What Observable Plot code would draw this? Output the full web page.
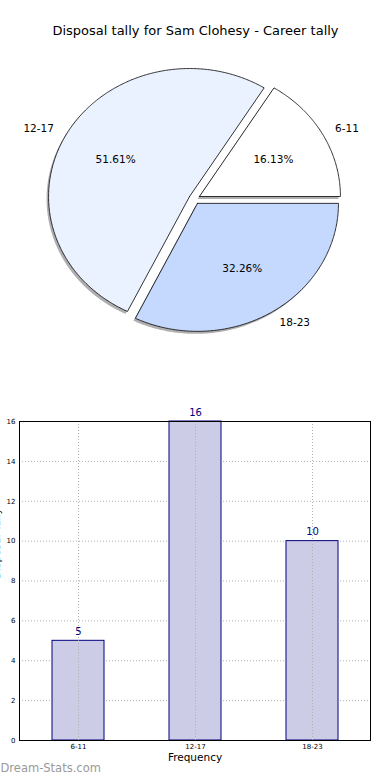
<!DOCTYPE html>
<html>
<head>
<meta charset="utf-8">
<script src="https://cdn.jsdelivr.net/npm/d3@7"></script>
<script src="https://cdn.jsdelivr.net/npm/@observablehq/plot@0.6"></script>
<style>
  html, body { margin: 0; padding: 0; background: #fff; }
  #root { width: 390px; height: 780px; position: relative; overflow: hidden; }
  #root svg { display: block; font-family: "DejaVu Sans", sans-serif; }
</style>
</head>
<body>
<div id="root"></div>
<script>
// ---- data ----
const title = "Disposal tally for Sam Clohesy - Career tally";
const categories = ["6-11", "12-17", "18-23"];
const values = [5, 16, 10];
const sliceColors = ["#ffffff", "#eaf1ff", "#c5d9ff"];
const yTicks = [0, 2, 4, 6, 8, 10, 12, 14, 16];
const xLabel = "Frequency";
const yLabel = "Disposal Tally";
const watermark = "Dream-Stats.com";

const root = document.getElementById("root");
const W = 390;
const font = "DejaVu Sans, sans-serif";

// ---- pie geometry (data units: radius 1) ----
const total = d3.sum(values);
const explode = 0.04;
const slices = [];
let acc = 0;
categories.forEach((c, i) => {
  const a0 = acc / total * 2 * Math.PI;
  acc += values[i];
  const a1 = acc / total * 2 * Math.PI;
  const mid = (a0 + a1) / 2;
  const ox = explode * Math.cos(mid), oy = explode * Math.sin(mid);
  slices.push({key: c, a0, a1, mid, ox, oy, color: sliceColors[i], pct: (values[i] / total * 100).toFixed(2) + "%"});
});
const piePts = [];
for (const s of slices) {
  piePts.push({key: s.key, x: s.ox, y: s.oy, color: s.color});
  const n = Math.max(8, Math.ceil((s.a1 - s.a0) / 0.01));
  for (let k = 0; k <= n; k++) {
    const a = s.a0 + (s.a1 - s.a0) * k / n;
    piePts.push({key: s.key, x: s.ox + Math.cos(a), y: s.oy + Math.sin(a), color: s.color});
  }
  piePts.push({key: s.key, x: s.ox, y: s.oy, color: s.color});
}
const outerLabels = slices.map(s => ({
  text: s.key,
  x: s.ox + 1.1 * Math.cos(s.mid),
  y: s.oy + 1.1 * Math.sin(s.mid),
  anchor: Math.cos(s.mid) >= 0 ? "start" : "end"
}));
const pctLabels = slices.map(s => ({
  text: s.pct,
  x: s.ox + 0.6 * Math.cos(s.mid),
  y: s.oy + 0.6 * Math.sin(s.mid)
}));

const H1 = 390, cx = 194, cy = 198.5, rx = 141, ry = 128;
const pie = Plot.plot({
  width: W, height: H1,
  margin: 0,
  style: {fontFamily: font, background: "transparent"},
  x: {domain: [-cx / rx, (W - cx) / rx], axis: null},
  y: {domain: [-(H1 - cy) / ry, cy / ry], axis: null},
  color: {type: "identity"},
  marks: [
    Plot.line(piePts, {x: "x", y: "y", z: "key", fill: "#4d4d4d", fillOpacity: 0.45, stroke: "none", dx: -2, dy: 2.5, curve: "linear"}),
    Plot.line(piePts, {x: "x", y: "y", z: "key", fill: "color", stroke: "black", strokeWidth: 0.8, curve: "linear"}),
    Plot.text(outerLabels.filter(d => d.anchor === "start"), {x: "x", y: "y", text: "text", textAnchor: "start", fontSize: 10.5, fill: "black"}),
    Plot.text(outerLabels.filter(d => d.anchor === "end"), {x: "x", y: "y", text: "text", textAnchor: "end", fontSize: 10.5, fill: "black"}),
    Plot.text(pctLabels, {x: "x", y: "y", text: "text", fontSize: 10.5, fill: "black"}),
    Plot.text([title], {frameAnchor: "top", dy: 30, fontSize: 13, fill: "black", lineAnchor: "middle"})
  ]
});
root.appendChild(pie);

// ---- bar chart ----
const bars = categories.map((c, i) => ({cat: c, value: values[i]}));
const H2 = 390;
const grid = {stroke: "#b0b0b0", strokeOpacity: 1, strokeDasharray: "1,2", strokeWidth: 1};
const barPlot = Plot.plot({
  width: W, height: H2,
  marginTop: 31, marginBottom: 40, marginLeft: 19, marginRight: 20,
  style: {fontFamily: font, background: "transparent", overflow: "visible"},
  x: {domain: categories, paddingInner: 0.556, paddingOuter: 0.278, label: null},
  y: {domain: [0, 16], label: null},
  marks: [
    Plot.gridY(yTicks, grid),
    Plot.gridX(categories, grid),
    Plot.barY(bars, {x: "cat", y: "value", fill: "#cccce6", stroke: "#000080", strokeWidth: 1}),
    Plot.gridX(categories, {...grid, y1: 0, y2: d => values[categories.indexOf(d)]}),
    Plot.text(bars, {x: "cat", y: "value", text: d => String(d.value), dy: -9, fontSize: 10, fill: "#000080"}),
    Plot.axisY(yTicks, {tickSize: 0, tickPadding: 4, fontSize: 7, fill: "black", label: null, anchor: "left"}),
    Plot.axisX(categories, {tickSize: 0, tickPadding: 4, fontSize: 7, fill: "black", label: null}),
    Plot.frame({stroke: "black", strokeWidth: 1}),
    Plot.text([yLabel], {frameAnchor: "left", rotate: -90, dx: -22.5, dy: -2, fontSize: 10.5, fill: "black"}),
    Plot.text([xLabel], {frameAnchor: "bottom", dy: 20, fontSize: 10.5, fill: "black"}),
    Plot.text([watermark], {frameAnchor: "bottom-left", dx: -19, dy: 31, textAnchor: "start", fontSize: 11.5, fill: "#9a9a9a"})
  ]
});
root.appendChild(barPlot);
</script>
</body>
</html>
